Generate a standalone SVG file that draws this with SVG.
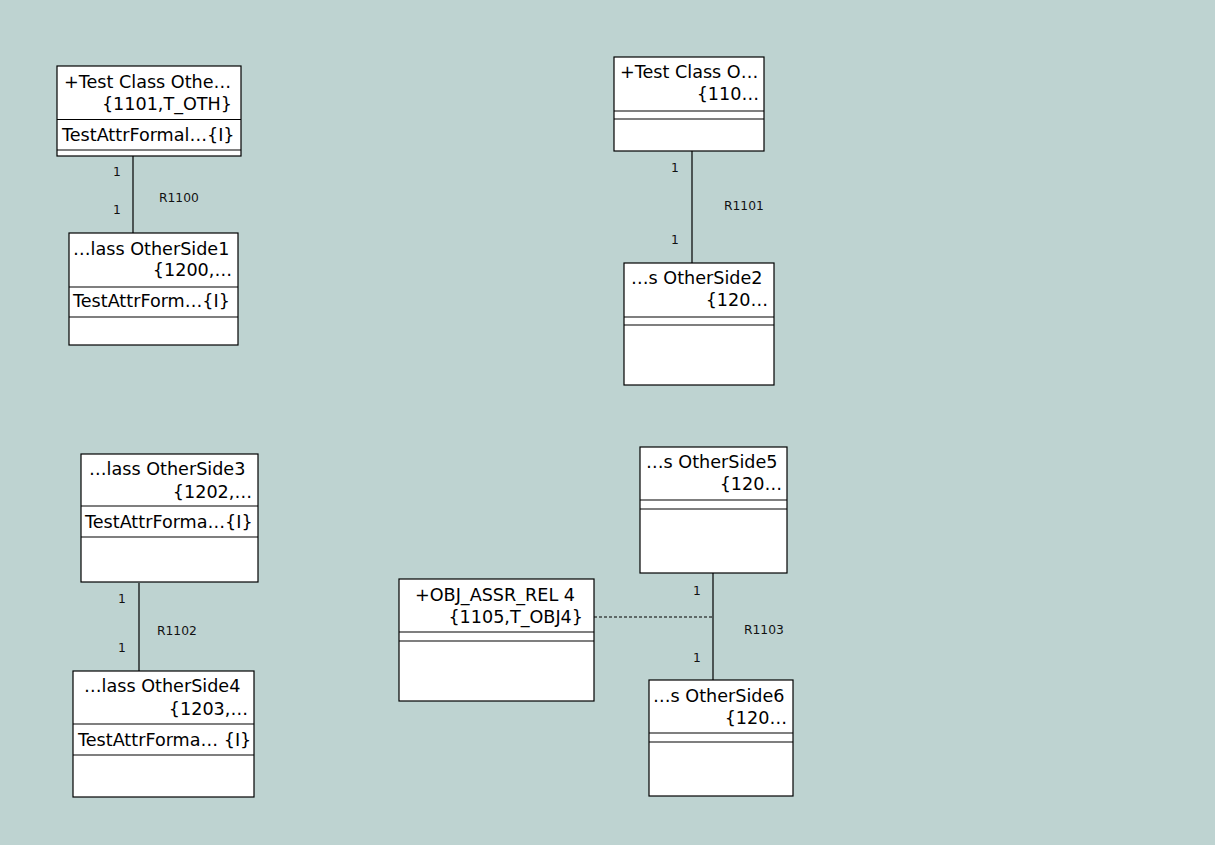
<svg xmlns="http://www.w3.org/2000/svg" width="1231" height="861" viewBox="0 0 1231 861">
<style>
.box{fill:#fff;stroke:#000;stroke-width:1.2}
.div{stroke:#000;stroke-width:1.2}
.t{font-family:"DejaVu Sans",sans-serif;font-size:17.6px;fill:#000}
.r{text-anchor:end}
.lbl{font-family:"DejaVu Sans",sans-serif;font-size:12.3px;fill:#111}
.conn{stroke:#000;stroke-width:1.2;fill:none}
.dash{stroke-dasharray:3,2}
</style>
<rect x="0" y="0" width="1231" height="861" fill="#fff"/>
<rect x="0" y="0" width="1215" height="845" fill="#bed3d1"/>
<g id="connectors">
<line class="conn" x1="133" y1="156" x2="133" y2="233"/>
<line class="conn" x1="692" y1="151" x2="692" y2="263"/>
<line class="conn" x1="139" y1="583" x2="139" y2="671"/>
<line class="conn" x1="713" y1="573" x2="713" y2="680"/>
<line class="conn dash" x1="594" y1="617" x2="713" y2="617"/>
<text class="lbl" x="113" y="176">1</text>
<text class="lbl" x="113" y="214">1</text>
<text class="lbl" x="159" y="202">R1100</text>
<text class="lbl" x="671" y="172">1</text>
<text class="lbl" x="671" y="244">1</text>
<text class="lbl" x="724" y="210">R1101</text>
<text class="lbl" x="118" y="603">1</text>
<text class="lbl" x="118" y="652">1</text>
<text class="lbl" x="157" y="635">R1102</text>
<text class="lbl" x="693" y="595">1</text>
<text class="lbl" x="693" y="662">1</text>
<text class="lbl" x="744" y="634">R1103</text>
</g>
<g id="node-test-class-other">
<rect class="box" x="57" y="66" width="184" height="90"/>
<line class="div" x1="57" y1="119.5" x2="241" y2="119.5"/>
<line class="div" x1="57" y1="150" x2="241" y2="150"/>
<text class="t" x="64" y="88">+Test Class Othe…</text>
<text class="t r" x="232" y="110">{1101,T_OTH}</text>
<text class="t" x="62" y="141">TestAttrFormal…{I}</text>
</g>
<g id="node-otherside1">
<rect class="box" x="69" y="233" width="169" height="112"/>
<line class="div" x1="69" y1="287" x2="238" y2="287"/>
<line class="div" x1="69" y1="317" x2="238" y2="317"/>
<text class="t" x="73" y="255">…lass OtherSide1</text>
<text class="t r" x="232" y="276">{1200,…</text>
<text class="t" x="73" y="307">TestAttrForm…{I}</text>
</g>
<g id="node-test-class-o">
<rect class="box" x="614" y="57" width="150" height="94"/>
<line class="div" x1="614" y1="111" x2="764" y2="111"/>
<line class="div" x1="614" y1="119" x2="764" y2="119"/>
<text class="t" x="620" y="78">+Test Class O…</text>
<text class="t r" x="759" y="100">{110…</text>
</g>
<g id="node-otherside2">
<rect class="box" x="624" y="263" width="150" height="122"/>
<line class="div" x1="624" y1="317" x2="774" y2="317"/>
<line class="div" x1="624" y1="325" x2="774" y2="325"/>
<text class="t" x="631" y="284">…s OtherSide2</text>
<text class="t r" x="768" y="306">{120…</text>
</g>
<g id="node-otherside3">
<rect class="box" x="81" y="454" width="177" height="128"/>
<line class="div" x1="81" y1="506" x2="258" y2="506"/>
<line class="div" x1="81" y1="537" x2="258" y2="537"/>
<text class="t" x="89" y="475">…lass OtherSide3</text>
<text class="t r" x="252" y="498">{1202,…</text>
<text class="t" x="85" y="528">TestAttrForma…{I}</text>
</g>
<g id="node-otherside4">
<rect class="box" x="73" y="671" width="181" height="126"/>
<line class="div" x1="73" y1="724" x2="254" y2="724"/>
<line class="div" x1="73" y1="755" x2="254" y2="755"/>
<text class="t" x="84" y="692">…lass OtherSide4</text>
<text class="t r" x="248" y="715">{1203,…</text>
<text class="t" x="78" y="746">TestAttrForma… {I}</text>
</g>
<g id="node-obj-assr-rel-4">
<rect class="box" x="399" y="579" width="195" height="122"/>
<line class="div" x1="399" y1="632" x2="594" y2="632"/>
<line class="div" x1="399" y1="641" x2="594" y2="641"/>
<text class="t" x="415" y="601">+OBJ_ASSR_REL 4</text>
<text class="t r" x="583" y="623">{1105,T_OBJ4}</text>
</g>
<g id="node-otherside5">
<rect class="box" x="640" y="447" width="147" height="126"/>
<line class="div" x1="640" y1="500" x2="787" y2="500"/>
<line class="div" x1="640" y1="509" x2="787" y2="509"/>
<text class="t" x="646" y="468">…s OtherSide5</text>
<text class="t r" x="782" y="490">{120…</text>
</g>
<g id="node-otherside6">
<rect class="box" x="649" y="680" width="144" height="116"/>
<line class="div" x1="649" y1="733" x2="793" y2="733"/>
<line class="div" x1="649" y1="742" x2="793" y2="742"/>
<text class="t" x="653" y="702">…s OtherSide6</text>
<text class="t r" x="787" y="724">{120…</text>
</g>
</svg>
